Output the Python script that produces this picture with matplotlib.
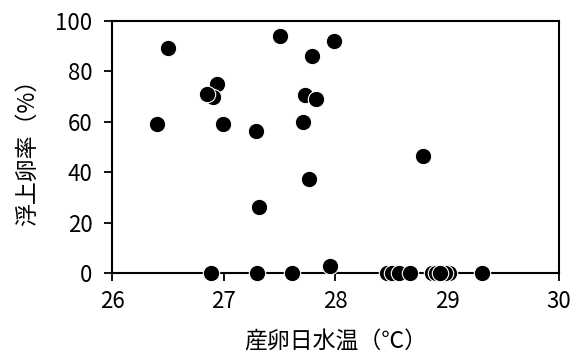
import matplotlib.pyplot as plt

plt.rcParams["font.family"] = ["Noto Sans CJK JP", "DejaVu Sans"]

# water temperature on spawning day (°C) and floating egg rate (%)
temp = [26.40, 26.50, 26.94, 26.90, 26.85, 26.99, 27.29, 27.32, 27.50,
        27.73, 27.83, 27.71, 27.76, 27.79, 27.99, 28.78,
        26.89, 27.30, 27.61, 27.95,
        28.46, 28.51, 28.57, 28.67,
        28.86, 28.90, 29.02, 28.98, 28.94, 29.31]
rate = [59.1, 89.3, 75.0, 69.8, 71.0, 59.1, 56.3, 26.2, 94.0,
        70.6, 69.0, 59.9, 37.3, 86.1, 92.1, 46.4,
        0, 0, 0, 2.8,
        0, 0, 0, 0,
        0, 0, 0, 0, 0, 0]

x_ticks = [26, 27, 28, 29, 30]
y_ticks = [0, 20, 40, 60, 80, 100]

fig = plt.figure(figsize=(5.84, 3.56), dpi=100)
ax = fig.add_axes([0.1918, 0.2331, 0.7652, 0.7079])

ax.scatter(temp, rate, s=140, color="black", edgecolors="white",
           linewidths=0.8, zorder=3, clip_on=False)

ax.set_xlim(26, 30)
ax.set_ylim(0, 100)
ax.set_xticks(x_ticks)
ax.set_yticks(y_ticks)
ax.tick_params(direction="out", length=6, width=1.3, labelsize=16)
ax.tick_params(axis="y", pad=8)
ax.tick_params(axis="x", pad=6)
for sp in ax.spines.values():
    sp.set_linewidth(1.5)

ax.set_xlabel("産卵日水温（℃）", fontsize=16.5, labelpad=13)
ax.set_ylabel("浮上卵率（%）", fontsize=16.5, labelpad=12)

fig.savefig("out.png", dpi=100)
